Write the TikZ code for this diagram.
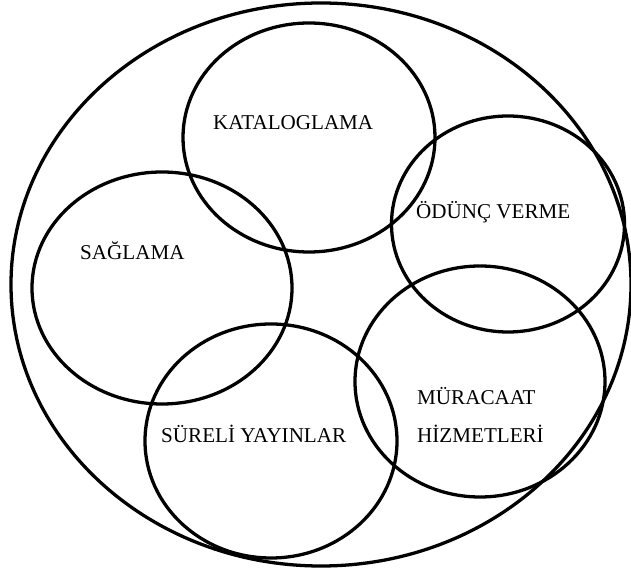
\documentclass[tikz,border=0pt]{standalone}
\usepackage{fontspec}
\setmainfont{Liberation Serif}
\usepackage{tikz}

\begin{document}
\begin{tikzpicture}[x=0.03cm, y=-0.03cm]
    \tikzset{
      ring/.style={draw, line width=2.8pt},
      tag/.style={font=\fontsize{18}{21}\selectfont, inner sep=0pt, anchor=base west}
    }
    \useasboundingbox (0,0) rectangle (631,571);

    % outer boundary
    \draw[ring] (321,284.5) ellipse [x radius=310, y radius=281.5];

    % the five units
    \draw[ring] (309,137.5) ellipse [x radius=126, y radius=114.5];
    \draw[ring] (162,288) ellipse [x radius=130, y radius=116];
    \draw[ring] (508,224) ellipse [x radius=116.5, y radius=108];
    \draw[ring] (480,381.5) ellipse [x radius=125, y radius=115.5];
    \draw[ring] (271,441) ellipse [x radius=126, y radius=117];

    \node[tag] (katalog) at (213,130) {KATALOGLAMA};
    \node[tag] (saglama) at (80,260) {SAĞLAMA};
    \node[tag] (odunc) at (416,219) {ÖDÜNÇ VERME};
    \node[tag] (muracaat) at (417,405) {MÜRACAAT};
    \node[tag] (hizmet) at (417,443) {HİZMETLERİ};
    \node[tag] (sureli) at (161,443) {SÜRELİ YAYINLAR};
  \end{tikzpicture}
\end{document}
